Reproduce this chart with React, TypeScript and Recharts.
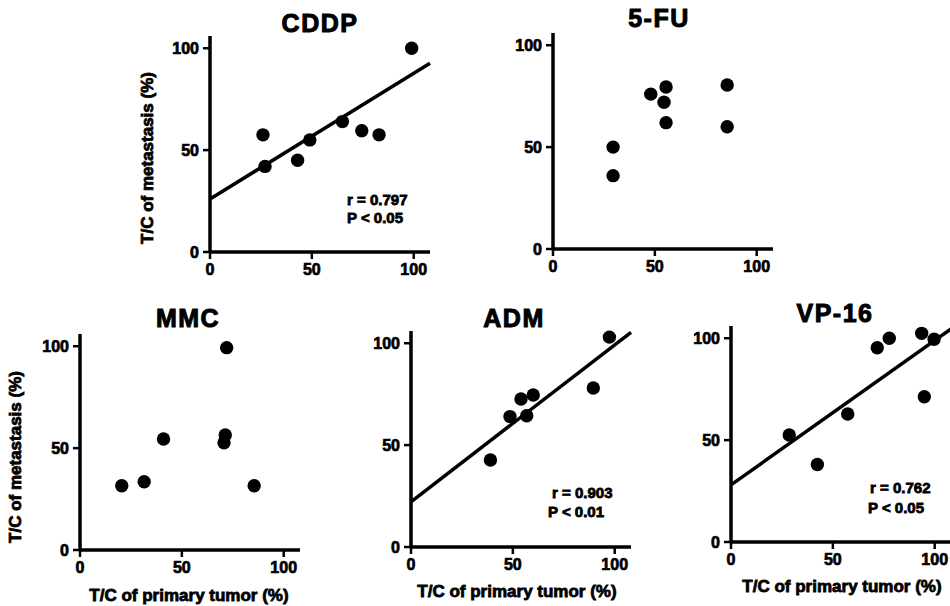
import { ScatterChart, Scatter, XAxis, YAxis, ReferenceLine } from "recharts";

const FONT = '"Liberation Sans", Arial, Helvetica, sans-serif';

// T/C of primary tumor (%) -> T/C of metastasis (%), one pair of arrays per drug
const cddpPrimary = [26, 27, 43, 49, 65, 74.5, 83, 99];
const cddpMetastasis = [57.5, 42, 45, 55, 64, 59.5, 57.5, 100];
const cddpFit = [26, 92.6]; // fitted metastasis at primary = 0 and primary = 108

const fuPrimary = [29.5, 29.5, 48, 55.5, 54.5, 55.5, 85.5, 85.5];
const fuMetastasis = [50, 36, 76, 79.5, 72, 62, 80.5, 60];

const mmcPrimary = [20.5, 31.5, 41, 72, 70.7, 71.3, 85.5];
const mmcMetastasis = [31.5, 33.5, 54.5, 99.3, 52.6, 56.4, 31.5];

const admPrimary = [97.4, 89.5, 39, 48.6, 54, 56.8, 60];
const admMetastasis = [103, 78, 42.7, 64, 72.6, 64.4, 74.6];
const admFit = [22.2, 105.3];

const vpPrimary = [28.6, 42.4, 57.3, 71.8, 77.7, 93.6, 99.7, 94.9];
const vpMetastasis = [52.5, 38, 62.8, 95.3, 100, 102.4, 99.5, 71.3];
const vpFit = [28, 104.6];

const axisTicks = [0, 50, 100];
const X_MAX = 108;
const Y_MAX = 106;
const PLOT_W = 220;
const PLOT_H = 216;
const Y_AXIS_W = 45;
const X_AXIS_H = 30;
const TOP = 8;
const RIGHT = 14;

interface PanelProps {
  primary: number[];
  metastasis: number[];
  fit?: number[];
  left: number;
  bottom: number;
}

const tickStyle = { fill: "#000", fontSize: 16, fontWeight: 700, fontFamily: FONT, stroke: "#000", strokeWidth: 0.7 };

function Panel({ primary, metastasis, fit, left, bottom }: PanelProps) {
  const data = primary.map((x, i) => ({ x, y: metastasis[i] }));
  return (
    <div style={{ position: "absolute", left: left - Y_AXIS_W, top: bottom - PLOT_H - TOP }}>
      <ScatterChart
        width={Y_AXIS_W + PLOT_W + RIGHT}
        height={TOP + PLOT_H + X_AXIS_H}
        margin={{ top: TOP, right: RIGHT, bottom: 0, left: 0 }}
      >
        <XAxis
          type="number"
          dataKey="x"
          domain={[0, X_MAX]}
          ticks={axisTicks}
          height={X_AXIS_H}
          tickSize={7}
          tickMargin={5}
          axisLine={{ stroke: "#000", strokeWidth: 3.5 }}
          tickLine={{ stroke: "#000", strokeWidth: 2.5 }}
          tick={tickStyle}
        />
        <YAxis
          type="number"
          dataKey="y"
          domain={[0, Y_MAX]}
          ticks={axisTicks}
          width={Y_AXIS_W}
          tickSize={7}
          tickMargin={4}
          axisLine={{ stroke: "#000", strokeWidth: 3.5 }}
          tickLine={{ stroke: "#000", strokeWidth: 2.5 }}
          tick={tickStyle}
        />
        {fit && (
          <ReferenceLine
            segment={[
              { x: 0, y: fit[0] },
              { x: X_MAX, y: fit[1] },
            ]}
            stroke="#000"
            strokeWidth={3.5}
            ifOverflow="visible"
          />
        )}
        <Scatter
          data={data}
          isAnimationActive={false}
          shape={(p: any) => <circle cx={p.cx} cy={p.cy} r={6.7} fill="#000" />}
        />
      </ScatterChart>
    </div>
  );
}

const textProps = { fontFamily: FONT, fontWeight: 700, fill: "#000", stroke: "#000", strokeWidth: 0.8 };

export default function App() {
  return (
    <div
      style={{
        position: "absolute",
        left: 0,
        top: 0,
        width: 950,
        height: 606,
        overflow: "hidden",
        background: "#fff",
      }}
    >
      <Panel primary={cddpPrimary} metastasis={cddpMetastasis} fit={cddpFit} left={210} bottom={252} />
      <Panel primary={fuPrimary} metastasis={fuMetastasis} left={553} bottom={249} />
      <Panel primary={mmcPrimary} metastasis={mmcMetastasis} left={80} bottom={550} />
      <Panel primary={admPrimary} metastasis={admMetastasis} fit={admFit} left={411} bottom={547} />
      <Panel primary={vpPrimary} metastasis={vpMetastasis} fit={vpFit} left={731} bottom={542} />

      <svg width={950} height={606} style={{ position: "absolute", left: 0, top: 0, pointerEvents: "none" }}>
        <g {...textProps} fontSize={25} textAnchor="middle" letterSpacing={1.5} strokeWidth={1}>
          <text x={320} y={32}>CDDP</text>
          <text x={659} y={27}>5-FU</text>
          <text x={188} y={327}>MMC</text>
          <text x={514} y={327}>ADM</text>
          <text x={835} y={322}>VP-16</text>
        </g>
        <g {...textProps} fontSize={15}>
          <text x={347} y={205}>r = 0.797</text>
          <text x={347} y={223}>P &lt; 0.05</text>
          <text x={552} y={498}>r = 0.903</text>
          <text x={548} y={517}>P &lt; 0.01</text>
          <text x={870} y={493}>r = 0.762</text>
          <text x={868} y={513}>P &lt; 0.05</text>
        </g>
        <g {...textProps} fontSize={17} textAnchor="middle">
          <text x={153} y={158} transform="rotate(-90 153 158)">T/C of metastasis (%)</text>
          <text x={21} y={457} transform="rotate(-90 21 457)">T/C of metastasis (%)</text>
          <text x={189} y={601}>T/C of primary tumor (%)</text>
          <text x={517} y={597}>T/C of primary tumor (%)</text>
          <text x={842} y={592}>T/C of primary tumor (%)</text>
        </g>
      </svg>
    </div>
  );
}
